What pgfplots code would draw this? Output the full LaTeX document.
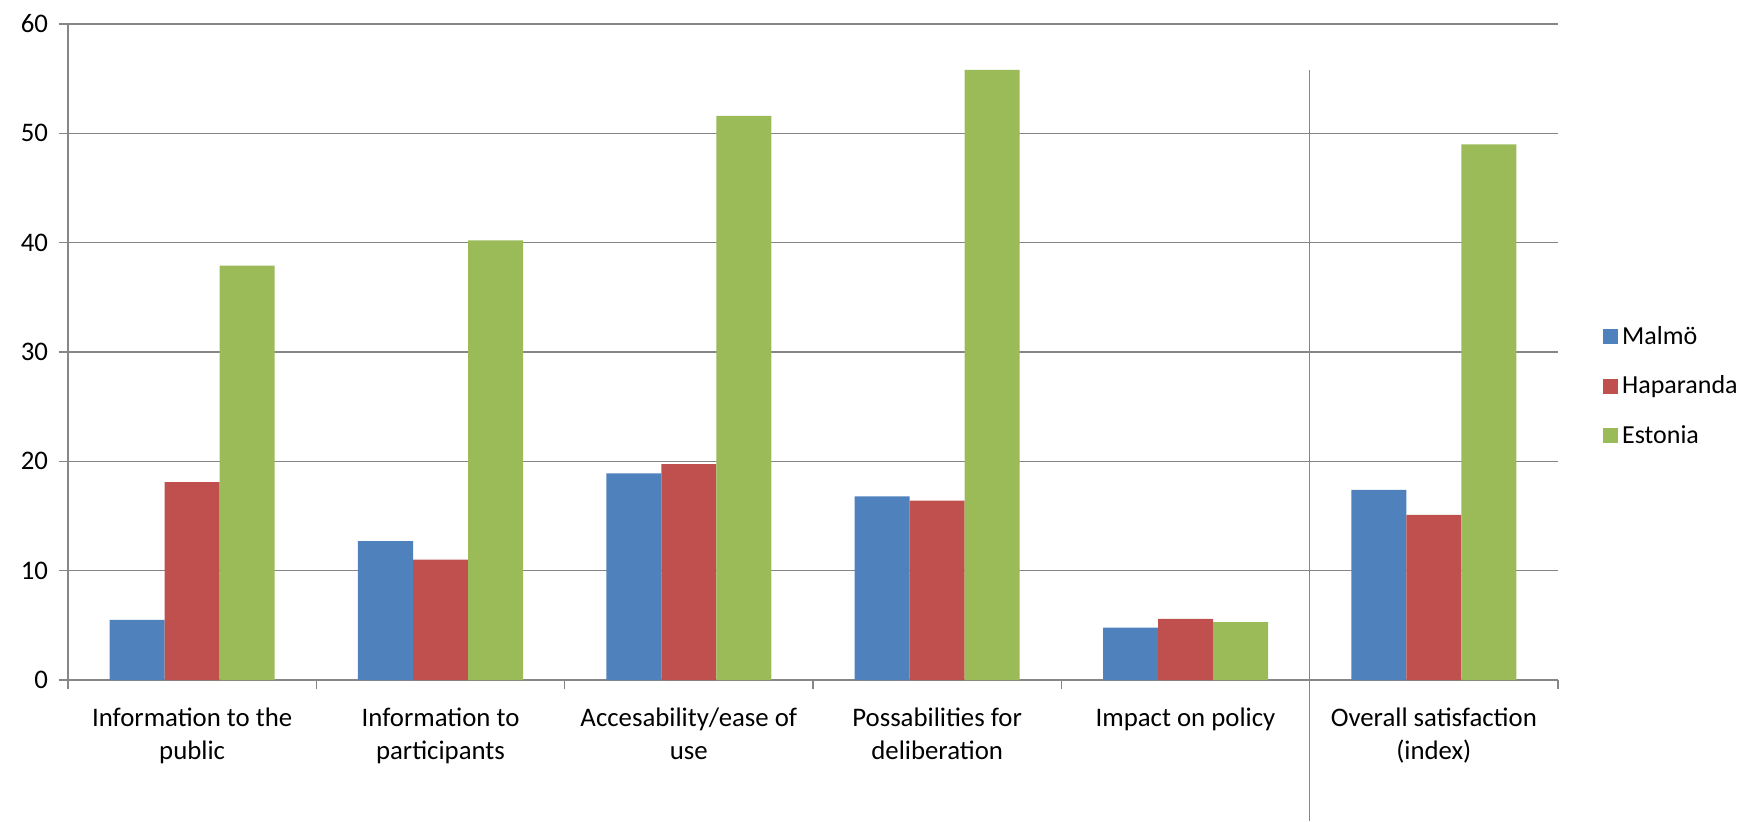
\documentclass[border=0pt]{standalone}
\usepackage{fontspec}
\setmainfont{Carlito}
\usepackage{pgfplots}
\pgfplotsset{compat=1.18}
\definecolor{cMal}{HTML}{4F81BD}
\definecolor{cHap}{HTML}{C0504D}
\definecolor{cEst}{HTML}{9BBB59}
\definecolor{cGrid}{HTML}{868686}
\begin{document}
\begin{tikzpicture}
\useasboundingbox (-34pt,-70.5pt) rectangle (838.5pt,340pt);
\begin{axis}[
  scale only axis,
  width=745pt, height=328pt,
  ybar=0pt, bar width=27.5pt,
  xmin=-0.5, xmax=5.5, ymin=0, ymax=60,
  xtick={0,1,2,3,4,5},
  xticklabels={{Information to the\\public},{Information to\\participants},{Accesability/ease of\\use},{Possabilities for\\deliberation},{Impact on policy},{Overall satisfaction\\(index)}},
  x tick label style={align=center, font=\fontsize{13.4}{16.5}\selectfont, yshift=-6pt},
  minor xtick={-0.5,0.5,...,5.5},
  ytick={0,10,...,60},
  y tick label style={font=\fontsize{13.4}{15}\selectfont, xshift=-2pt},
  /pgf/number format/assume math mode=true,
  axis lines=left,
  axis line style={-, draw=cGrid, line width=0.8pt},
  tick align=outside,
  major tick length=4.5pt,
  minor tick length=4.5pt,
  x tick style={draw=none},
  minor x tick style={draw=cGrid, line width=0.8pt},
  y tick style={draw=cGrid, line width=0.8pt},
  ymajorgrids,
  grid style={draw=cGrid, line width=0.8pt},
  clip=false,
  legend style={draw=none, fill=none, at={(1.026,0.552)}, anchor=north west,
    font=\fontsize{13}{15}\selectfont, row sep=10.2pt,
    legend cell align=left},
  legend image code/.code={\fill[#1] (0pt,-3.75pt) rectangle (7.5pt,3.75pt);},
]
\addplot[fill=cMal, draw=none] coordinates {(0,5.5) (1,12.7) (2,18.9) (3,16.8) (4,4.8) (5,17.4)};
\addplot[fill=cHap, draw=none] coordinates {(0,18.1) (1,11.0) (2,19.75) (3,16.4) (4,5.6) (5,15.1)};
\addplot[fill=cEst, draw=none] coordinates {(0,37.9) (1,40.2) (2,51.6) (3,55.8) (4,5.3) (5,49.0)};
\legend{Malmö,Haparanda,Estonia}
\draw[cGrid, line width=0.8pt] (axis cs:4.5,55.8) -- (axis cs:4.5,-12.9);
\end{axis}
\end{tikzpicture}
\end{document}
